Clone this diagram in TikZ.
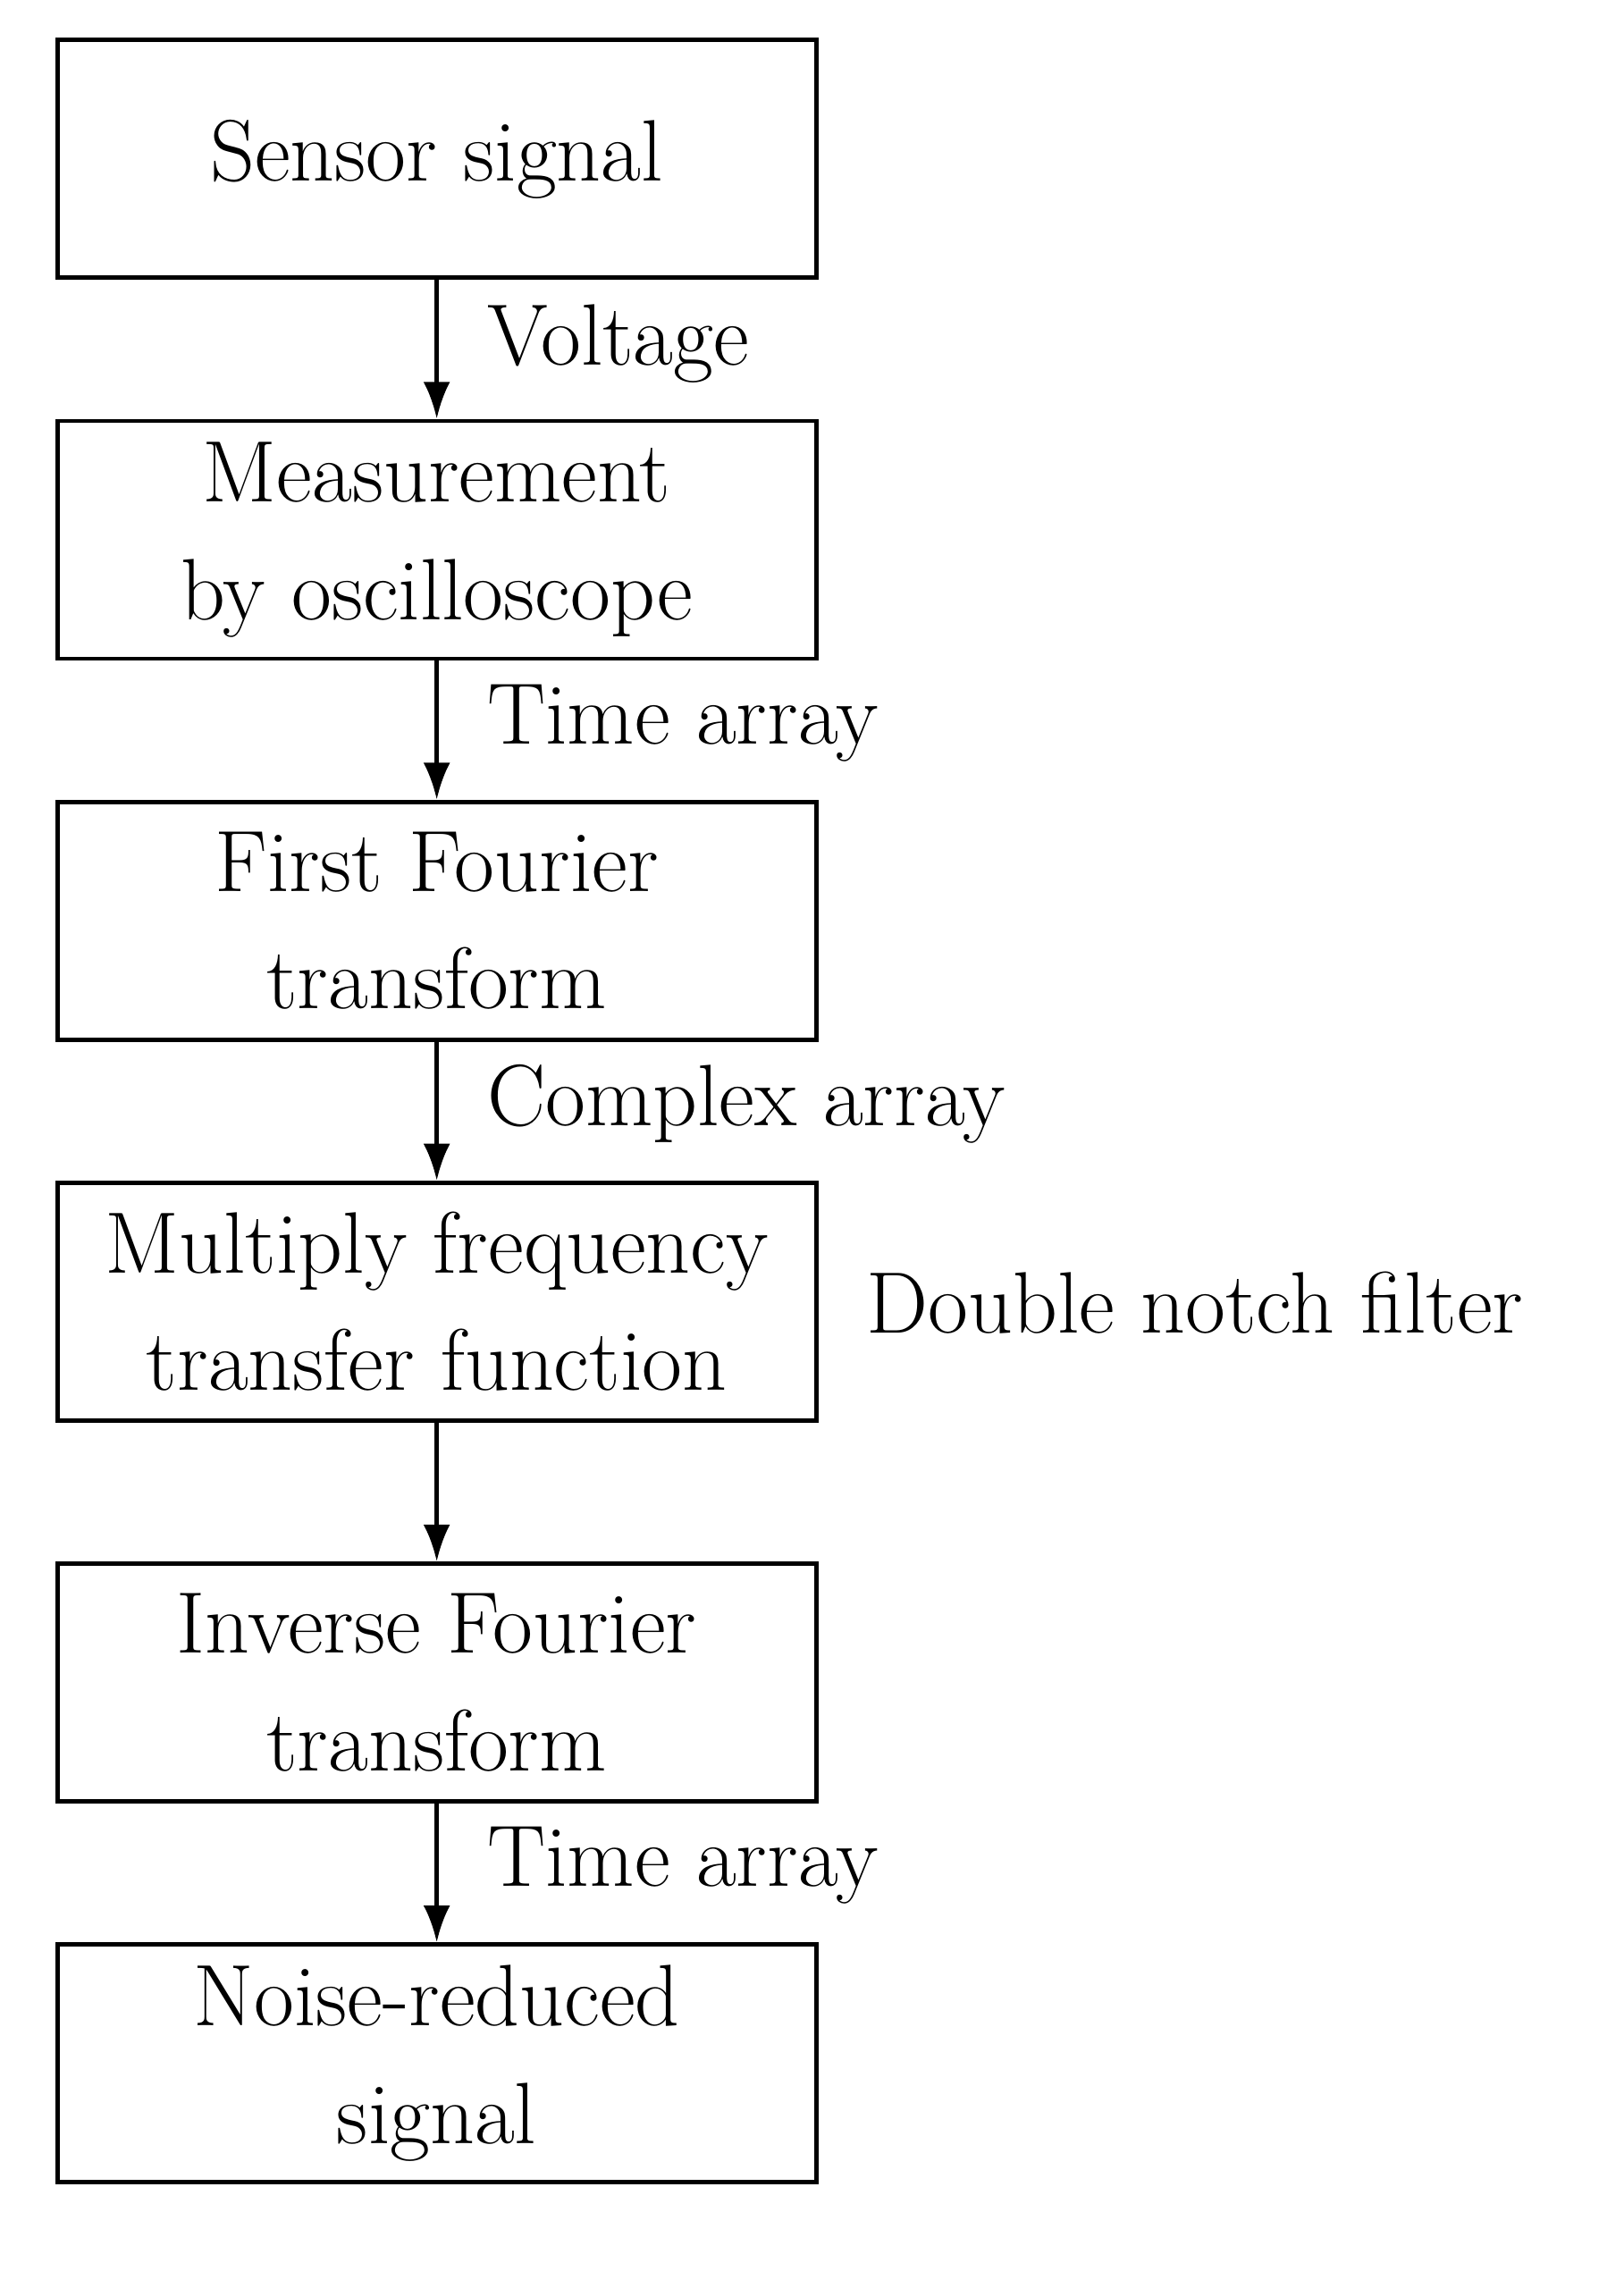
\documentclass[tikz,border=0pt]{standalone}
\usetikzlibrary{arrows.meta}
\begin{document}
\begin{tikzpicture}[x=0.03cm,y=-0.03cm,
  box/.style={draw,line width=2.6pt,minimum width=530*0.03cm,minimum height=166*0.03cm,align=center,inner sep=0pt,font=\fontsize{52}{70}\selectfont},
  lab/.style={anchor=west,inner sep=0pt,font=\fontsize{52}{70}\selectfont},
  arr/.style={line width=2.6pt,-{Latex[length=22pt,width=16pt]}}]
\useasboundingbox (0,0) rectangle (1134,1586);
\node[box] (b1) at (305,111) {Sensor signal};
\node[box] (b2) at (305,377) {Measurement\\by oscilloscope};
\node[box] (b3) at (305,643) {First Fourier\\transform};
\node[box] (b4) at (305,909) {Multiply frequency\\transfer function};
\node[box] (b5) at (305,1175) {Inverse Fourier\\transform};
\node[box] (b6) at (305,1441) {Noise-reduced\\signal};
\draw[arr] (b1) -- (b2);
\draw[arr] (b2) -- (b3);
\draw[arr] (b3) -- (b4);
\draw[arr] (b4) -- (b5);
\draw[arr] (b5) -- (b6);
\node[lab] (l1) at (340,240) {Voltage};
\node[lab] (l2) at (340,505) {Time array};
\node[lab] (l3) at (340,771) {Complex array};
\node[lab] (l4) at (605,910) {Double notch filter};
\node[lab] (l5) at (340,1303) {Time array};
\end{tikzpicture}
\end{document}
